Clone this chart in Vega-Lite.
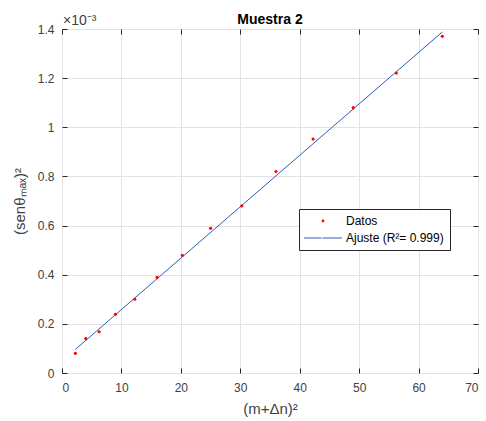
{
  "$schema": "https://vega.github.io/schema/vega-lite/v6.json",
  "width": 416,
  "height": 344,
  "autosize": "none",
  "padding": {"left": 62, "top": 29, "right": 8, "bottom": 48},
  "background": "white",
  "config": {
    "font": "Liberation Sans",
    "view": {"stroke": "#262626", "strokeWidth": 1},
    "axis": {
      "domain": false,
      "tickColor": "#262626",
      "tickSize": -5,
      "labelColor": "#404040",
      "labelFontSize": 12,
      "titleColor": "#404040",
      "titleFontSize": 15,
      "titleFontWeight": "normal",
      "gridColor": "#e3e3e3",
      "gridWidth": 1
    },
    "legend": {
      "title": null,
      "orient": "none",
      "legendX": 237,
      "legendY": 180,
      "direction": "vertical",
      "symbolType": "M-1.4,0H2.12A0.28,0.28 0 1,1 2.68,0A0.28,0.28 0 1,1 2.12,0H6.2",
      "symbolSize": 100,
      "symbolStrokeWidth": 1,
      "symbolDash": [17.6, 8.8, 20.4, 200],
      "symbolDashOffset": 0,
      "symbolOpacity": 1,
      "labelFontSize": 12,
      "labelColor": "#000000",
      "labelOffset": 29,
      "padding": 6,
      "rowPadding": 5,
      "strokeColor": "#262626",
      "fillColor": "white",
      "cornerRadius": 0
    }
  },
  "title": {"text": "Muestra 2", "fontSize": 14, "fontWeight": "bold", "color": "#000000", "anchor": "middle", "offset": -13},
  "datasets": {
    "pts": [
      {"x": 2.25, "y": 0.08},
      {"x": 4, "y": 0.14},
      {"x": 6.25, "y": 0.168},
      {"x": 9, "y": 0.239},
      {"x": 12.25, "y": 0.30},
      {"x": 16, "y": 0.389},
      {"x": 20.25, "y": 0.479},
      {"x": 25, "y": 0.589},
      {"x": 30.25, "y": 0.68},
      {"x": 36, "y": 0.82},
      {"x": 42.25, "y": 0.952},
      {"x": 49, "y": 1.08},
      {"x": 56.25, "y": 1.221},
      {"x": 64, "y": 1.37}
    ],
    "fit": [
      {"x": 2.25, "y": 0.096},
      {"x": 64, "y": 1.388}
    ]
  },
  "layer": [
    {
      "data": {"name": "fit"},
      "mark": {"type": "line", "strokeWidth": 1},
      "encoding": {
        "x": {"field": "x", "type": "quantitative", "scale": {"domain": [0, 70], "nice": false},
              "axis": {"orient": "bottom", "values": [0, 10, 20, 30, 40, 50, 60, 70], "grid": true, "labelPadding": 14, "title": "(m+Δn)²", "titlePadding": 8}},
        "y": {"field": "y", "type": "quantitative", "scale": {"domain": [0, 1.4], "nice": false},
              "axis": {"orient": "left", "values": [0, 0.2, 0.4, 0.6, 0.8, 1, 1.2, 1.4], "format": "~g", "grid": true, "labelPadding": 13, "title": "(senθₘₐₓ)²", "titlePadding": 10}},
        "stroke": {
          "datum": "Ajuste (R²= 0.999)",
          "type": "nominal",
          "scale": {"domain": ["Datos", "Ajuste (R²= 0.999)"], "range": ["transparent", "#2b5cb8"]}
        }
      }
    },
    {
      "data": {"name": "pts"},
      "mark": {"type": "point", "filled": true, "size": 10, "opacity": 1, "shape": "circle"},
      "encoding": {
        "x": {"field": "x", "type": "quantitative", "axis": null},
        "y": {"field": "y", "type": "quantitative", "axis": null},
        "fill": {
          "datum": "Datos",
          "type": "nominal",
          "scale": {"domain": ["Datos", "Ajuste (R²= 0.999)"], "range": ["#ff0000", "transparent"]}
        }
      }
    },
    {
      "data": {"values": [{"x": 0, "y": 1.4, "t": "×10⁻³"}]},
      "mark": {"type": "text", "align": "left", "baseline": "alphabetic", "dx": 1, "dy": -4, "fontSize": 14, "color": "#404040"},
      "encoding": {
        "x": {"field": "x", "type": "quantitative", "axis": null},
        "y": {"field": "y", "type": "quantitative", "axis": null},
        "text": {"field": "t"}
      }
    },
    {
      "data": {"name": "fit"},
      "mark": {"type": "point", "opacity": 0},
      "encoding": {
        "x": {"field": "x", "type": "quantitative",
              "axis": {"orient": "top", "values": [0, 10, 20, 30, 40, 50, 60, 70], "labels": false, "grid": false, "title": null}},
        "y": {"field": "y", "type": "quantitative",
              "axis": {"orient": "right", "values": [0, 0.2, 0.4, 0.6, 0.8, 1, 1.2, 1.4], "labels": false, "grid": false, "title": null}}
      }
    }
  ],
  "resolve": {"axis": {"x": "independent", "y": "independent"}}
}
